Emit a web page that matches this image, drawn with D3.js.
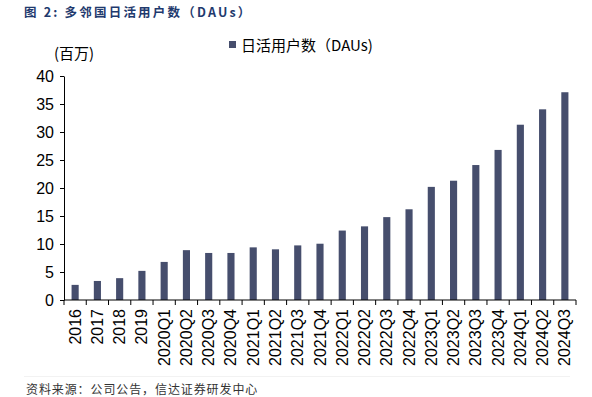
<!DOCTYPE html>
<html>
<head>
<meta charset="utf-8">
<script src="https://cdn.jsdelivr.net/npm/d3@7"></script>
<style>
  body { margin: 0; background: #fff; }
  svg { display: block; font-family: "Liberation Sans", Arial, sans-serif; }
</style>
</head>
<body>
<svg id="chart" width="592" height="397"></svg>
<script>
const periods = ["2016", "2017", "2018", "2019",
  "2020Q1", "2020Q2", "2020Q3", "2020Q4",
  "2021Q1", "2021Q2", "2021Q3", "2021Q4",
  "2022Q1", "2022Q2", "2022Q3", "2022Q4",
  "2023Q1", "2023Q2", "2023Q3", "2023Q4",
  "2024Q1", "2024Q2", "2024Q3"];
const dau = [2.7, 3.4, 3.9, 5.2,
  6.8, 8.9, 8.4, 8.4,
  9.4, 9.05, 9.75, 10.05,
  12.4, 13.15, 14.8, 16.2,
  20.2, 21.3, 24.1, 26.8,
  31.3, 34.05, 37.1];
const yTicks = [0, 5, 10, 15, 20, 25, 30, 35, 40];

const svg = d3.select("#chart");
const margin = { left: 64, right: 16, top: 76, bottom: 97 };
const width = 592, height = 397;

const x = d3.scaleBand()
  .domain(periods)
  .range([margin.left, width - margin.right])
  .paddingInner(0.68)
  .paddingOuter(0.34);

const y = d3.scaleLinear()
  .domain([0, 40])
  .range([height - margin.bottom, margin.top]);

// title
svg.append("text")
  .attr("x", 24)
  .attr("y", 17)
  .attr("fill", "#1f3a6e")
  .attr("font-size", 12.5)
  .attr("font-weight", "bold")
  .attr("letter-spacing", 2.2)
  .attr("font-family", "'Noto Sans CJK SC', sans-serif")
  .text("图 2:  多邻国日活用户数（DAUs）");

// unit
svg.append("text")
  .attr("x", 54)
  .attr("y", 59)
  .attr("font-size", 15)
  .attr("font-family", "'Noto Sans CJK SC', sans-serif")
  .text("(百万)");

// legend
svg.append("rect")
  .attr("x", 229)
  .attr("y", 41)
  .attr("width", 7)
  .attr("height", 7)
  .attr("fill", "#464e6d");
svg.append("text")
  .attr("x", 241)
  .attr("y", 51)
  .attr("font-size", 15)
  .attr("font-family", "'Noto Sans CJK SC', sans-serif")
  .text("日活用户数（DAUs)");

// bars
svg.append("g")
  .selectAll("rect")
  .data(periods)
  .join("rect")
    .attr("x", d => x(d))
    .attr("y", (d, i) => y(dau[i]))
    .attr("width", x.bandwidth())
    .attr("height", (d, i) => y(0) - y(dau[i]))
    .attr("fill", "#464e6d");

// y axis
const yAxis = svg.append("g")
  .attr("transform", `translate(${margin.left},0)`)
  .call(d3.axisLeft(y).tickValues(yTicks).tickSize(4).tickSizeOuter(0).tickPadding(6));
yAxis.select(".domain").attr("stroke", "#000");
yAxis.selectAll("text").attr("font-size", 16).attr("fill", "#000")
  .attr("font-family", "'Liberation Sans', Arial, sans-serif");

// x axis with ticks on band edges
const xAxisG = svg.append("g")
  .attr("transform", `translate(0,${y(0)})`);
xAxisG.append("line")
  .attr("x1", margin.left).attr("x2", width - margin.right)
  .attr("stroke", "#000");
const step = x.step();
const edges = d3.range(periods.length + 1).map(i => margin.left + i * step);
xAxisG.selectAll(".edge")
  .data(edges)
  .join("line")
    .attr("class", "edge")
    .attr("x1", d => d).attr("x2", d => d)
    .attr("y1", 0).attr("y2", 5)
    .attr("stroke", "#000");
xAxisG.selectAll(".lbl")
  .data(periods)
  .join("text")
    .attr("class", "lbl")
    .attr("transform", d => `translate(${x(d) + x.bandwidth() / 2 + 5.5},9) rotate(-90)`)
    .attr("text-anchor", "end")
    .attr("font-size", 16)
    .attr("fill", "#000")
    .text(d => d);

// separator and footer
svg.append("line")
  .attr("x1", 24).attr("x2", 570)
  .attr("y1", 376.5).attr("y2", 376.5)
  .attr("stroke", "#f2f2f2");
svg.append("text")
  .attr("x", 26)
  .attr("y", 394)
  .attr("font-size", 12)
  .attr("letter-spacing", 0.9)
  .attr("fill", "#333")
  .attr("font-family", "'Noto Sans CJK SC', sans-serif")
  .text("资料来源：公司公告，信达证券研发中心");
</script>
</body>
</html>
